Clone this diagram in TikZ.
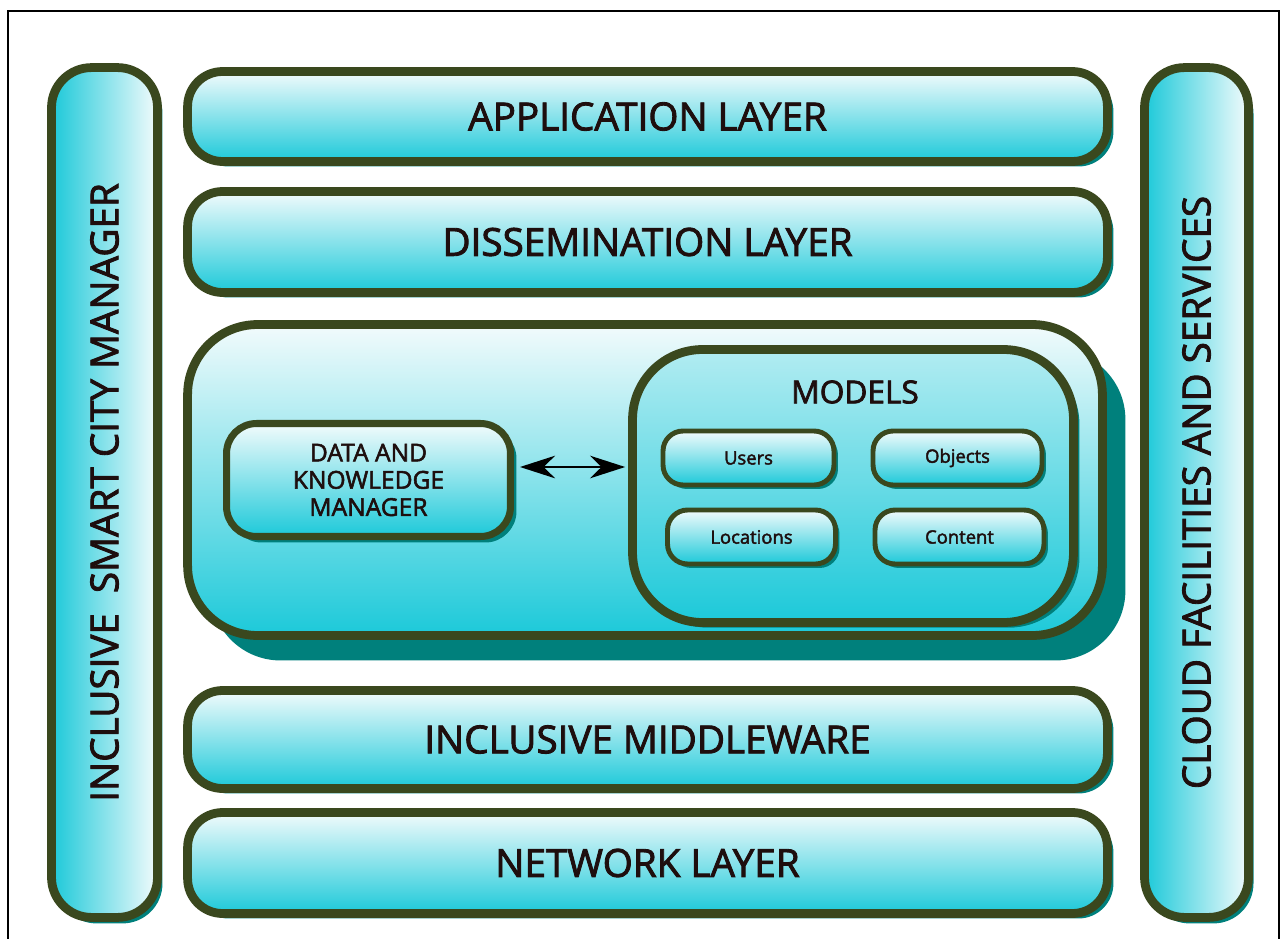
\documentclass[tikz,border=0pt]{standalone}
\usepackage{fontspec}
\setmainfont{Open Sans}[FakeBold=2.2]
\usetikzlibrary{shadows, arrows.meta}
\definecolor{edgeolive}{RGB}{58,72,30}
\definecolor{cyanlow}{RGB}{28,201,217}
\definecolor{cyanhigh}{RGB}{242,251,252}
\definecolor{shadeteal}{RGB}{0,128,124}
\definecolor{inkbrown}{RGB}{30,14,14}
\tikzset{layer/.style={draw=edgeolive,line width=5pt,rounded corners=0.7cm,top color=cyanhigh,bottom color=cyanlow,
           minimum width=18.4cm,inner sep=0pt,text=inkbrown,font=\fontsize{22}{26}\selectfont,
           drop shadow={shadow xshift=0.12cm,shadow yshift=-0.1cm,fill=shadeteal,opacity=1}},
         sidebar/.style={draw=edgeolive,line width=5pt,rounded corners=0.8cm,left color=cyanlow,right color=cyanhigh,
           minimum height=17cm,inner sep=0pt,text=inkbrown,font=\fontsize{22}{26}\selectfont,
           drop shadow={shadow xshift=0.1cm,shadow yshift=-0.12cm,fill=shadeteal,opacity=1}},
         modelitem/.style={draw=edgeolive,line width=2.8pt,rounded corners=0.4cm,top color=cyanhigh,bottom color=cyanlow,
           minimum height=1.08cm,inner sep=0pt,text=inkbrown,font=\fontsize{10.5}{12}\selectfont,
           drop shadow={shadow xshift=0.08cm,shadow yshift=-0.08cm,fill=shadeteal,opacity=1}},
         dkarrow/.style={{Stealth[length=0.7cm,width=0.45cm]}-{Stealth[length=0.7cm,width=0.45cm]},line width=1.7pt,black}}

\begin{document}
\begin{tikzpicture}[x=0.02cm,y=-0.02cm]
        \useasboundingbox (0,0) rectangle (1281,939);
        \draw[line width=1.1pt](8,939)--(8,11)--(1279,11)--(1279,939);

        \node[sidebar, minimum width=2.12cm](mgr)at(104.5,492.5){\rotatebox{90}{INCLUSIVE\ \ SMART CITY MANAGER}};
        \node[sidebar, minimum width=2.08cm](cloud)at(1196.5,492.5){\rotatebox{90}{CLOUD FACILITIES AND SERVICES}};

        \node[layer, minimum height=1.8cm](app)at(647.5,116.5){APPLICATION LAYER};
        \node[layer, minimum height=2.02cm](diss)at(647.5,242){DISSEMINATION LAYER};
        \node[layer, minimum height=1.96cm](mid)at(647.5,739.5){INCLUSIVE MIDDLEWARE};
        \node[layer, minimum height=2.02cm](net)at(647.5,863){NETWORK LAYER};

        \node[layer, rounded corners=1.4cm, minimum width=18.3cm, minimum height=6.22cm,
              drop shadow={shadow xshift=0.46cm,shadow yshift=-0.5cm,fill=shadeteal,opacity=1}](core)at(645,480){};

        \node[layer, line width=4pt, rounded corners=0.6cm, minimum width=5.68cm, minimum height=2.26cm,
              align=center, font=\fontsize{14}{15.5}\selectfont,
              drop shadow={shadow xshift=0.1cm,shadow yshift=-0.12cm,fill=shadeteal,opacity=1}](dkm)at(368.5,480){DATA AND\\KNOWLEDGE\\MANAGER};

        \node[layer, rounded corners=1.4cm, minimum width=8.82cm, minimum height=5.46cm, top color=cyanhigh!70!cyanlow,
              drop shadow={shadow xshift=0.1cm,shadow yshift=-0.1cm,fill=shadeteal,opacity=1}](models)at(853,486){};
        \node[text=inkbrown, font=\fontsize{18}{20}\selectfont](modtitle)at(855,392){MODELS};

        \node[modelitem, minimum width=3.42cm](users)at(748.5,458){Users};
        \node[modelitem, minimum width=3.38cm](objects)at(957.5,458){Objects};
        \node[modelitem, minimum width=3.36cm](locations)at(751.5,537){Locations};
        \node[modelitem, minimum width=3.38cm](content)at(959.5,537){Content};

        \draw[dkarrow, shorten <=0.12cm, shorten >=0.06cm]([yshift=0.26cm]dkm.east)--([yshift=0.26cm]dkm.east -| models.west);
    \end{tikzpicture}
\end{document}
